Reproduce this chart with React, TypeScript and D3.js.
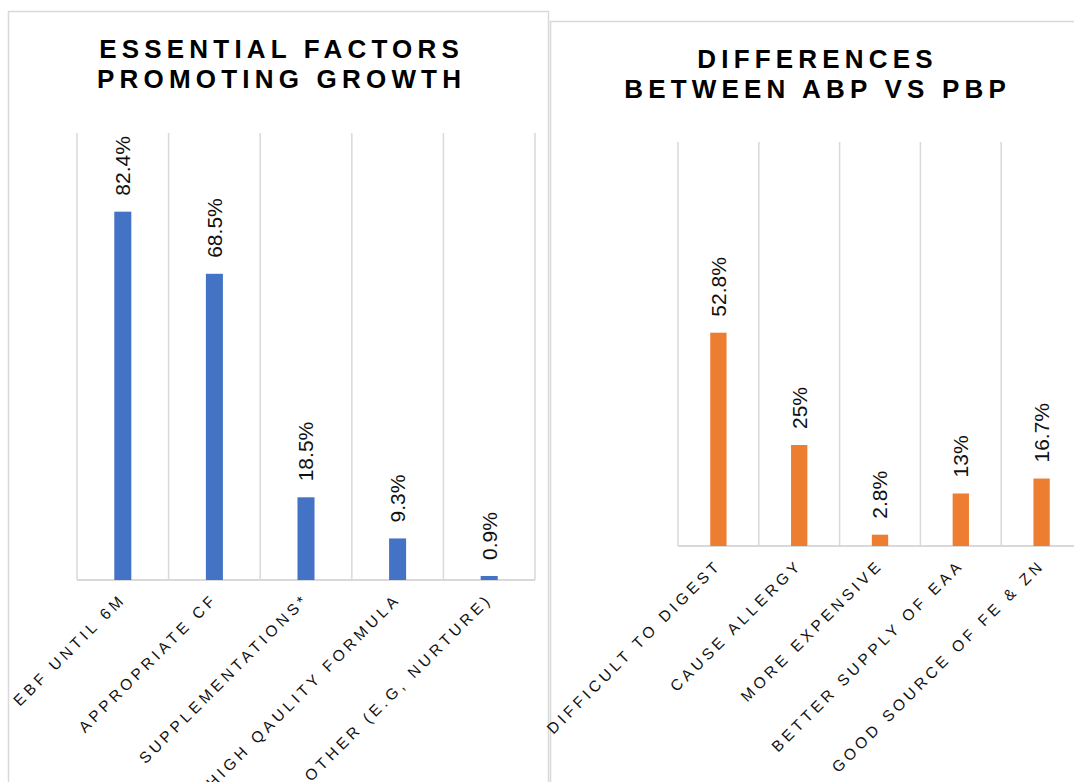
import React from "react";
import * as d3 from "d3";

// Chart 1: factors promoting growth
const growthTitle = ["ESSENTIAL FACTORS", "PROMOTING GROWTH"];
const growthCategories = [
  "EBF UNTIL 6M",
  "APPROPRIATE CF",
  "SUPPLEMENTATIONS*",
  "HIGH QAULITY FORMULA",
  "OTHER (E.G, NURTURE)",
];
const growthValues = [82.4, 68.5, 18.5, 9.3, 0.9];

// Chart 2: animal-based vs plant-based protein
const proteinTitle = ["DIFFERENCES", "BETWEEN ABP VS PBP"];
const proteinCategories = [
  "DIFFICULT TO DIGEST",
  "CAUSE ALLERGY",
  "MORE EXPENSIVE",
  "BETTER SUPPLY OF EAA",
  "GOOD SOURCE OF FE & ZN",
];
const proteinValues = [52.8, 25, 2.8, 13, 16.7];

const yDomain = [0, 100];

const FONT = "'Liberation Sans', Arial, Helvetica, sans-serif";
const GRID = "#d9d9d9";

type PanelProps = {
  box: { x: number; y: number; w: number; h: number };
  plot: { left: number; right: number; top: number; bottom: number };
  title: string[];
  titleX: number;
  titleY: number;
  categories: string[];
  values: number[];
  color: string;
  padding: number;
};

function BarPanel(p: PanelProps) {
  const x = d3
    .scaleBand<string>()
    .domain(p.categories)
    .range([p.plot.left, p.plot.right])
    .paddingInner(p.padding)
    .paddingOuter(p.padding / 2);
  const y = d3
    .scaleLinear()
    .domain(yDomain)
    .range([p.plot.bottom, p.plot.top]);

  const step = x.step();
  const gridXs = d3.range(p.categories.length + 1).map((i) => p.plot.left + i * step);
  const titleSpacing = 5.2;

  return (
    <g>
      <rect
        x={p.box.x}
        y={p.box.y}
        width={p.box.w}
        height={p.box.h}
        fill="#fff"
        stroke={GRID}
        strokeWidth={1.5}
      />
      {p.title.map((line, i) => (
        <text
          key={line}
          x={p.titleX + titleSpacing / 2}
          y={p.titleY + i * 30}
          textAnchor="middle"
          fontFamily={FONT}
          fontWeight="bold"
          fontSize={26}
          letterSpacing={titleSpacing}
          fill="#000"
        >
          {line}
        </text>
      ))}
      {gridXs.map((gx, i) => (
        <line
          key={i}
          x1={gx}
          x2={gx}
          y1={p.plot.top}
          y2={p.plot.bottom}
          stroke={GRID}
          strokeWidth={1.5}
        />
      ))}
      <line
        x1={p.plot.left}
        x2={p.plot.right}
        y1={p.plot.bottom}
        y2={p.plot.bottom}
        stroke={GRID}
        strokeWidth={2}
      />
      {p.categories.map((c, i) => {
        const v = p.values[i];
        const bx = x(c) as number;
        const cx = bx + x.bandwidth() / 2;
        return (
          <g key={c}>
            <rect
              x={bx}
              y={y(v)}
              width={x.bandwidth()}
              height={y(0) - y(v)}
              fill={p.color}
            />
            <text
              transform={`translate(${cx},${y(v) - 16}) rotate(-90)`}
              dy="0.35em"
              textAnchor="start"
              fontFamily={FONT}
              fontSize={21}
              fill="#111"
            >
              {`${v}%`}
            </text>
            <text
              transform={`translate(${cx + 4},${p.plot.bottom + 20}) rotate(-45)`}
              textAnchor="end"
              fontFamily={FONT}
              fontSize={15.5}
              letterSpacing={3.9}
              fill="#111"
            >
              {c}
            </text>
          </g>
        );
      })}
    </g>
  );
}

export default function App() {
  return (
    <svg
      width={1074}
      height={782}
      style={{ position: "absolute", left: 0, top: 0, background: "#fff" }}
    >
      <rect x={0} y={0} width={1074} height={782} fill="#fff" />
      <BarPanel
        box={{ x: 8.5, y: 11.5, w: 540, h: 800 }}
        plot={{ left: 77, right: 535, top: 133, bottom: 580 }}
        title={growthTitle}
        titleX={279}
        titleY={58}
        categories={growthCategories}
        values={growthValues}
        color="#4472C4"
        padding={0.814}
      />
      <BarPanel
        box={{ x: 550.5, y: 21.5, w: 545, h: 800 }}
        plot={{ left: 678, right: 1082, top: 142, bottom: 546 }}
        title={proteinTitle}
        titleX={815}
        titleY={68}
        categories={proteinCategories}
        values={proteinValues}
        color="#ED7D31"
        padding={0.798}
      />
    </svg>
  );
}
